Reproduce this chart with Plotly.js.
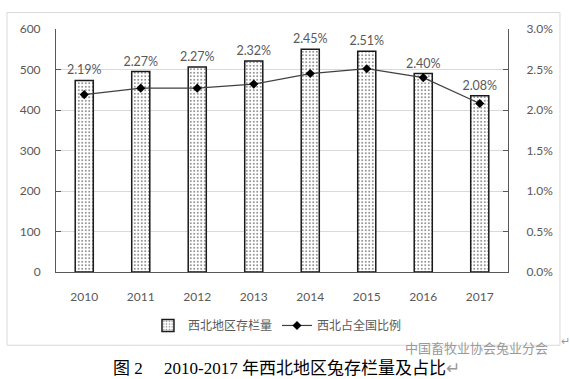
<!DOCTYPE html>
<html>
<head>
<meta charset="utf-8">
<script src="https://cdn.plot.ly/plotly-3.0.1.min.js"></script>
<style>html,body{margin:0;padding:0;background:#fff;}#chart{width:570px;height:379px;}</style>
</head>
<body>
<div id="chart"></div>
<script>
const years = ['2010','2011','2012','2013','2014','2015','2016','2017'];
const stock = [473, 495, 506, 521, 550, 545, 490, 435];
const ratio = [0.0219, 0.0227, 0.0227, 0.0232, 0.0245, 0.0251, 0.0240, 0.0208];
const ratioLabels = ['2.19%','2.27%','2.27%','2.32%','2.45%','2.51%','2.40%','2.08%'];
const leftTicks = [0,100,200,300,400,500,600];
const rightTicks = [0,0.005,0.01,0.015,0.02,0.025,0.03];

const latin = 'Lato, "Noto Sans", sans-serif';
const cjk = '"Noto Sans CJK SC", sans-serif';

const traces = [
  {
    type: 'bar', name: '西北地区存栏量', x: years, y: stock,
    width: 0.32,
    text: ratioLabels, textposition: 'outside', cliponaxis: false, constraintext: 'none',
    textfont: {family: latin, size: 12.5, color: '#595959'},
    marker: {
      color: '#ffffff',
      line: {color: '#1a1a1a', width: 1.5},
      pattern: {shape: '.', fgcolor: '#7a7a7a', bgcolor: '#ffffff', size: 3.5, solidity: 0.22}
    },
    hoverinfo: 'x+y'
  },
  {
    type: 'scatter', mode: 'lines+markers', name: '西北占全国比例', x: years, y: ratio,
    yaxis: 'y2',
    line: {color: '#404040', width: 1.2},
    marker: {symbol: 'diamond', size: 7, color: '#000000'}
  }
];

const layout = {
  width: 570, height: 379,
  margin: {l: 56, r: 62, t: 28.5, b: 107.3},
  paper_bgcolor: '#ffffff', plot_bgcolor: '#ffffff',
  showlegend: true,
  legend: {orientation: 'h', x: 0.49, xanchor: 'center', y: -0.22, yanchor: 'middle',
           font: {family: cjk, size: 12, color: '#595959'}, itemwidth: 30, traceorder: 'normal'},
  xaxis: {
    type: 'category', showgrid: false, showline: true, linecolor: '#595959', linewidth: 1,
    ticks: '', tickfont: {family: latin, size: 12, color: '#595959'},
    ticklabelstandoff: 14, zeroline: false, fixedrange: true
  },
  yaxis: {
    range: [0, 600], tickvals: leftTicks, showgrid: true, gridcolor: '#d9d9d9', gridwidth: 1,
    showline: true, linecolor: '#595959', linewidth: 1, mirror: false,
    ticks: 'inside', ticklen: 5, tickcolor: '#595959',
    tickfont: {family: latin, size: 12, color: '#595959'}, ticklabelstandoff: 12, zeroline: false
  },
  yaxis2: {
    overlaying: 'y', side: 'right', range: [0, 0.03], tickvals: rightTicks, tickformat: '.1%',
    showgrid: false, showline: true, linecolor: '#595959', linewidth: 1,
    ticks: 'inside', ticklen: 5, tickcolor: '#595959',
    tickfont: {family: latin, size: 12, color: '#595959'}, ticklabelstandoff: 15, zeroline: false
  },
  shapes: [
    {type: 'rect', xref: 'paper', yref: 'paper', x0: -0.1084, x1: 1.115, y0: -0.3014, y1: 1.0678,
     line: {color: '#d9d9d9', width: 1}, fillcolor: 'rgba(0,0,0,0)', layer: 'below'}
  ],
  annotations: [
    {xref: 'paper', yref: 'paper', x: 0.51, y: -0.396, xanchor: 'center', yanchor: 'middle', showarrow: false,
     text: '图 2　 2010-2017 年西北地区兔存栏量及占比<span style="color:#999999">↵</span>',
     font: {family: '"Liberation Serif", "Noto Sans CJK SC", serif', size: 17, color: '#000000'}},
    {xref: 'paper', yref: 'paper', x: 0.93, y: -0.31, xanchor: 'center', yanchor: 'middle', showarrow: false,
     text: '中国畜牧业协会兔业分会', font: {family: cjk, size: 13, color: '#9a9a9a'}},
    {xref: 'paper', yref: 'paper', x: 1.112, y: -0.28, xanchor: 'left', yanchor: 'middle', showarrow: false,
     text: '↵', font: {family: latin, size: 11, color: '#999999'}}
  ]
};

Plotly.newPlot('chart', traces, layout, {displayModeBar: false, staticPlot: true});
</script>
</body>
</html>
